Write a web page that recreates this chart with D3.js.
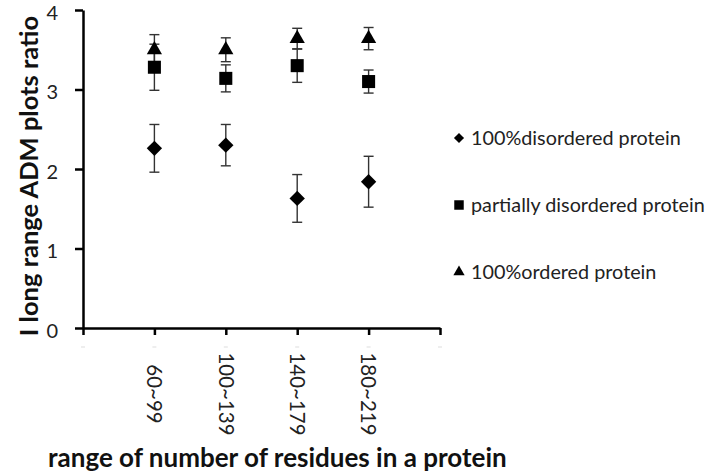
<!DOCTYPE html>
<html><head><meta charset="utf-8">
<script src="https://cdn.jsdelivr.net/npm/d3@7"></script>
<style>body{margin:0;background:#fff}svg{display:block}</style>
</head><body>
<svg id="chart" width="709" height="472"></svg>
<script>
const categories = ["60~99", "100~139", "140~179", "180~219"];
const disordered = [2.26, 2.30, 1.63, 1.84];
const disorderedErr = [0.30, 0.26, 0.30, 0.32];
const partial = [3.28, 3.14, 3.30, 3.10];
const partialErr = [0.29, 0.17, 0.21, 0.145];
const ordered = [3.50, 3.50, 3.64, 3.64];
const orderedErr = [0.19, 0.15, 0.13, 0.14];
const yTicks = [0, 1, 2, 3, 4];
const seriesNames = ["100%disordered protein", "partially disordered protein", "100%ordered protein"];

const svg = d3.select("#chart");
const font = "Lato, 'Open Sans', sans-serif";
const x = d3.scaleLinear().domain([0, 5]).range([83, 440]);
const y = d3.scaleLinear().domain([0, 4]).range([328, 10]);

// axes
const yAxis = svg.append("g").attr("transform", "translate(83,0)")
  .call(d3.axisLeft(y).tickValues(yTicks).tickSize(8).tickSizeOuter(0).tickFormat(d3.format("d")).tickPadding(17));
yAxis.select(".domain").attr("stroke", "#000").attr("stroke-width", 2.5);
yAxis.selectAll(".tick line").attr("stroke", "#000").attr("stroke-width", 2.5);
yAxis.selectAll(".tick text").attr("font-family", font).attr("font-size", 20).attr("fill", "#222").attr("dy", "0.45em");

const xAxis = svg.append("g").attr("transform", "translate(0,328)")
  .call(d3.axisBottom(x).tickValues([0,1,2,3,4,5]).tickSize(7).tickSizeOuter(0).tickFormat(""));
xAxis.select(".domain").attr("stroke", "#000").attr("stroke-width", 2.5);
xAxis.selectAll(".tick line").attr("stroke", "#000").attr("stroke-width", 2.5);

// category labels rotated
svg.append("g").selectAll("text").data(categories).join("text")
  .attr("transform", (d, i) => `translate(${x(i + 1)},394) rotate(90)`)
  .attr("text-anchor", "middle").attr("dy", "0.35em")
  .attr("font-family", font).attr("font-size", 20.5).attr("fill", "#222")
  .text(d => d);

// faint artifacts under axis
svg.append("g").selectAll("line").data([0,1,2,3,4,5]).join("line")
  .attr("x1", d => x(d) - 2).attr("x2", d => x(d) + 2)
  .attr("y1", 347).attr("y2", 347).attr("stroke", "#ddd").attr("stroke-width", 1);

// axis titles
svg.append("text").attr("transform", "translate(29,176) rotate(-90)")
  .attr("text-anchor", "middle").attr("font-family", font).attr("font-weight", "bold")
  .attr("font-size", 25.5).attr("fill", "#111").attr("dy", "0.35em")
  .text("I long range ADM plots ratio");
svg.append("text").attr("x", 48).attr("y", 467)
  .attr("font-family", font).attr("font-weight", "bold")
  .attr("font-size", 26).attr("fill", "#111")
  .text("range of number of residues in a protein");

// error bars + markers
const series = [
  {vals: disordered, err: disorderedErr, sym: d3.symbolDiamond2, size: 150},
  {vals: partial, err: partialErr, sym: d3.symbolSquare, size: 170},
  {vals: ordered, err: orderedErr, sym: d3.symbolTriangle, size: 100}
];
series.forEach(s => {
  const g = svg.append("g");
  const eb = g.selectAll("g.eb").data(s.vals).join("g");
  eb.append("line").attr("x1", (d,i) => x(i+1)).attr("x2", (d,i) => x(i+1))
    .attr("y1", (d,i) => y(d + s.err[i])).attr("y2", (d,i) => y(d - s.err[i]))
    .attr("stroke", "#333").attr("stroke-width", 1.4);
  [1, -1].forEach(sg => {
    eb.append("line").attr("x1", (d,i) => x(i+1) - 5).attr("x2", (d,i) => x(i+1) + 5)
      .attr("y1", (d,i) => y(d + sg * s.err[i])).attr("y2", (d,i) => y(d + sg * s.err[i]))
      .attr("stroke", "#333").attr("stroke-width", 1.4);
  });
});
series.forEach(s => {
  svg.append("g").selectAll("path").data(s.vals).join("path")
    .attr("transform", (d,i) => `translate(${x(i+1)},${y(d)})`)
    .attr("d", d3.symbol().type(s.sym).size(s.size)).attr("fill", "#000");
});

// legend
const legendY = [138, 205, 272];
const legSizes = [65, 90, 55];
const lg = svg.append("g");
seriesNames.forEach((n, i) => {
  lg.append("path").attr("transform", `translate(459,${legendY[i]})`)
    .attr("d", d3.symbol().type(series[i].sym).size(legSizes[i])).attr("fill", "#000");
  lg.append("text").attr("x", 471).attr("y", legendY[i]).attr("dy", "0.35em")
    .attr("font-family", font).attr("font-size", 19.8).attr("fill", "#222").text(n);
});
</script>
</body></html>
